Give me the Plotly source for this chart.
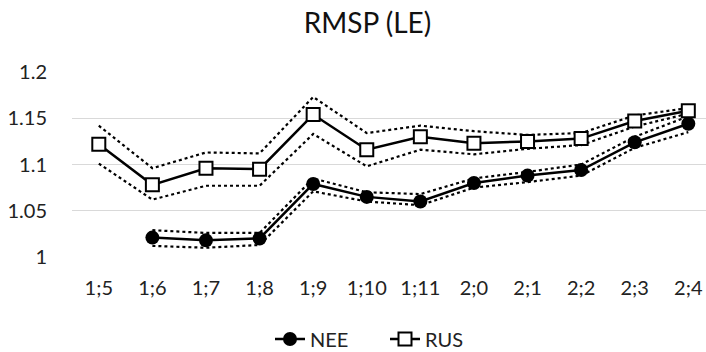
import plotly.graph_objects as go

categories = ["1;5", "1;6", "1;7", "1;8", "1;9", "1;10", "1;11", "2;0", "2;1", "2;2", "2;3", "2;4"]
nee = [None, 1.021, 1.018, 1.020, 1.079, 1.065, 1.060, 1.080, 1.088, 1.094, 1.124, 1.144]
nee_hi = [None, 1.029, 1.026, 1.026, 1.085, 1.070, 1.068, 1.085, 1.092, 1.100, 1.130, 1.152]
nee_lo = [None, 1.012, 1.010, 1.013, 1.071, 1.060, 1.056, 1.075, 1.081, 1.088, 1.118, 1.135]
rus = [1.122, 1.078, 1.096, 1.095, 1.154, 1.116, 1.130, 1.123, 1.125, 1.128, 1.147, 1.158]
rus_hi = [1.142, 1.096, 1.113, 1.112, 1.173, 1.134, 1.142, 1.136, 1.132, 1.134, 1.153, 1.161]
rus_lo = [1.101, 1.062, 1.077, 1.077, 1.133, 1.098, 1.116, 1.111, 1.117, 1.121, 1.141, 1.155]
y_ticks = [1.0, 1.05, 1.1, 1.15, 1.2]
y_tick_text = ["1", "1.05", "1.1", "1.15", "1.2"]

FONT = "Lato"
x = list(range(len(categories)))

fig = go.Figure()
for ys in (rus_hi, rus_lo, nee_hi, nee_lo):
    fig.add_trace(go.Scatter(x=x, y=ys, mode="lines", showlegend=False, hoverinfo="skip",
                             line=dict(color="black", width=2.2, dash="dot")))
fig.add_trace(go.Scatter(x=x, y=nee, mode="lines+markers", name="NEE",
                         line=dict(color="black", width=2.5),
                         marker=dict(symbol="circle", size=14, color="black")))
fig.add_trace(go.Scatter(x=x, y=rus, mode="lines+markers", name="RUS",
                         line=dict(color="black", width=2.5),
                         marker=dict(symbol="square", size=13, color="white",
                                     line=dict(color="black", width=2))))

fig.update_layout(
    width=706, height=352,
    margin=dict(l=72, r=0, t=72, b=95),
    paper_bgcolor="white", plot_bgcolor="white",
    font=dict(family=FONT, size=20, color="#222"),
    title=dict(text="RMSP (LE)", xref="container", yref="container",
               x=367.5 / 706, xanchor="center", y=1 - 23 / 352, yanchor="middle",
               font=dict(family=FONT, size=28, color="#111")),
    legend=dict(orientation="h", xref="container", yref="container",
                x=385 / 706, xanchor="center", y=1 - 339 / 352, yanchor="middle",
                font=dict(family=FONT, size=20, color="#222"),
                entrywidth=70, entrywidthmode="pixels", tracegroupgap=0),
    showlegend=True,
)
fig.update_xaxes(range=[-0.5, 11.33], tickvals=x, ticktext=categories,
                 showgrid=False, zeroline=False, showline=False,
                 ticks="outside", ticklen=13, tickcolor="rgba(0,0,0,0)",
                 tickfont=dict(family=FONT, size=20, color="#222"), fixedrange=True)
fig.update_yaxes(range=[1.0, 1.2], tickvals=y_ticks, ticktext=y_tick_text,
                 showgrid=True, gridcolor="#d9d9d9", gridwidth=1.3, zeroline=False,
                 showline=False, ticks="outside", ticklen=20, tickcolor="rgba(0,0,0,0)",
                 tickfont=dict(family=FONT, size=20, color="#222"), fixedrange=True)

fig.write_html("out.html", config={"displayModeBar": False, "staticPlot": True},
               post_script="document.body.style.margin='0';document.body.style.overflow='hidden';")
